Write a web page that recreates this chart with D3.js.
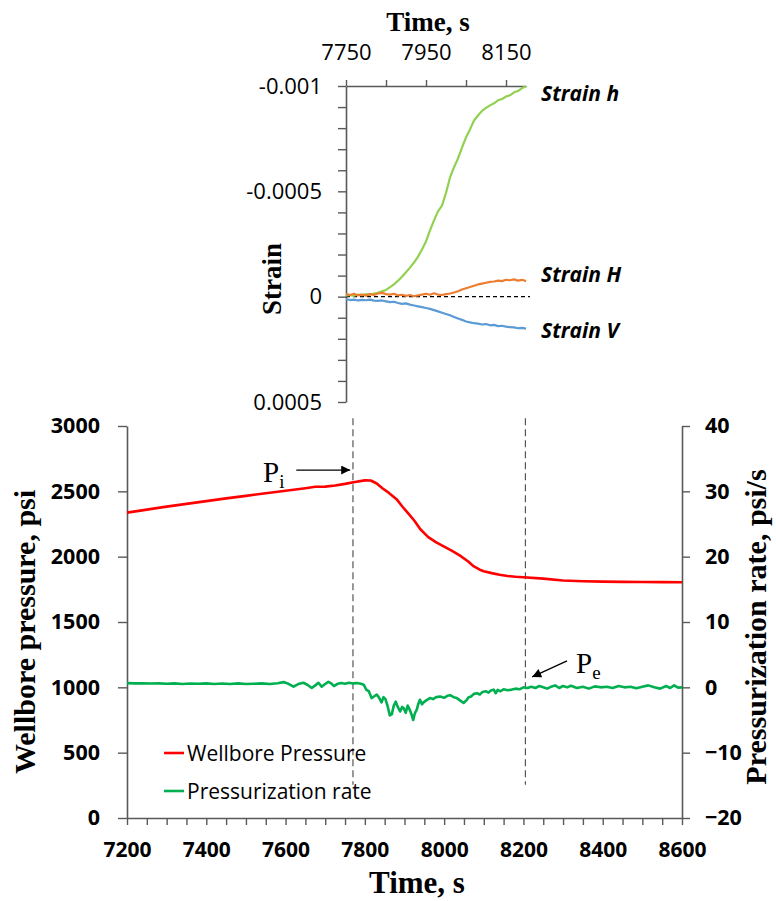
<!DOCTYPE html>
<html>
<head>
<meta charset="utf-8">
<script src="https://cdn.jsdelivr.net/npm/d3@7"></script>
<style>
  html, body { margin: 0; padding: 0; background: #fff; }
  svg { display: block; }
  .tick text { fill: #000; }
</style>
</head>
<body>
<svg id="chart" width="776" height="901"></svg>
<script>
// ---- Wellbore pressure (psi) vs time (s) ----
const pressureTime = [7200, 7250, 7300, 7350, 7400, 7450, 7500, 7550, 7600, 7650, 7675, 7700, 7725, 7750, 7775, 7800, 7815, 7830, 7845, 7860, 7880, 7895, 7910, 7925, 7940, 7960, 7980, 8000, 8020, 8040, 8060, 8075, 8090, 8100, 8120, 8140, 8160, 8180, 8200, 8250, 8300, 8350, 8400, 8450, 8500, 8550, 8600];
const pressureVal  = [2337, 2360, 2383, 2404, 2425, 2446, 2465, 2486, 2505, 2524, 2535, 2536, 2545, 2557, 2571, 2584, 2583, 2560, 2522, 2490, 2440, 2382, 2330, 2275, 2210, 2150, 2110, 2077, 2045, 2008, 1965, 1925, 1900, 1888, 1874, 1862, 1852, 1846, 1842, 1832, 1818, 1812, 1809, 1807, 1806, 1805, 1804];

// ---- Pressurization rate (psi/s) vs time (s) ----
const rateTime = [7200, 7220, 7240, 7260, 7280, 7300, 7320, 7340, 7360, 7380, 7400, 7420, 7440, 7460, 7480, 7500, 7520, 7540, 7560, 7580, 7595, 7605, 7620, 7632, 7645, 7655, 7666, 7675, 7683, 7691, 7700, 7708, 7715, 7722, 7730, 7740, 7750, 7760, 7770, 7780, 7790, 7797, 7804, 7810, 7817, 7823, 7830, 7836, 7842, 7847, 7852, 7858, 7863, 7868, 7873, 7878, 7883, 7889, 7894, 7898, 7903, 7908, 7913, 7918, 7922, 7926, 7931, 7935, 7939, 7944, 7948, 7955, 7964, 7972, 7980, 7990, 8000, 8008, 8015, 8024, 8032, 8040, 8049, 8056, 8062, 8068, 8075, 8083, 8090, 8097, 8105, 8112, 8118, 8125, 8130, 8135, 8142, 8150, 8160, 8171, 8180, 8190, 8200, 8210, 8220, 8230, 8240, 8250, 8260, 8270, 8280, 8290, 8300, 8310, 8320, 8335, 8350, 8365, 8380, 8395, 8410, 8425, 8440, 8455, 8470, 8485, 8500, 8515, 8530, 8545, 8560, 8570, 8580, 8590, 8600];
const rateVal  = [0.65, 0.6, 0.62, 0.58, 0.6, 0.55, 0.6, 0.52, 0.58, 0.55, 0.6, 0.5, 0.58, 0.52, 0.6, 0.5, 0.55, 0.6, 0.5, 0.62, 0.8, 0.6, 0.1, 0.5, 0.7, 0.4, -0.1, 0.3, 0.7, 0.1, 0.5, 0.85, 0.6, 0.2, 0.5, 0.65, 0.55, 0.7, 0.6, 0.65, 0.55, 0.4, -0.4, -0.6, -1.65, -1.4, -1.1, -1.6, -2.3, -1.5, -1.8, -3.0, -4.3, -4.1, -2.8, -2.2, -3.0, -3.7, -3.0, -3.2, -3.9, -2.8, -3.4, -4.2, -5.0, -4.0, -3.4, -2.5, -1.9, -2.6, -2.3, -2.0, -1.65, -1.8, -1.5, -1.4, -1.6, -1.3, -1.2, -1.5, -1.65, -2.0, -2.4, -2.0, -1.5, -1.4, -1.0, -0.9, -1.1, -0.7, -0.6, -0.8, -0.5, -0.35, -0.9, -0.4, -0.6, -0.3, -0.45, -0.35, -0.2, -0.3, 0.0, -0.1, 0.1, -0.1, 0.2, 0.0, -0.2, 0.1, 0.3, -0.1, 0.2, 0.0, 0.25, -0.1, 0.1, -0.2, 0.15, 0.0, 0.1, -0.1, 0.2, 0.0, 0.1, -0.15, 0.1, 0.3, 0.0, -0.2, 0.2, -0.1, 0.3, -0.05, 0.0];

// ---- Strain gauges (microstrain; negative = extension, plotted upward) ----
const strainTime = [7750, 7760, 7770, 7780, 7790, 7800, 7810, 7820, 7830, 7840, 7850, 7860, 7870, 7880, 7890, 7900, 7910, 7920, 7930, 7940, 7950, 7960, 7970, 7980, 7990, 8000, 8010, 8020, 8030, 8040, 8050, 8060, 8070, 8080, 8090, 8100, 8110, 8120, 8130, 8140, 8150, 8160, 8170, 8180, 8190, 8200];
const strainSmallH = [-5, -8, -4, -10, -7, -12, -10, -15, -18, -25, -32, -45, -58, -76, -95, -116, -138, -162, -190, -224, -262, -315, -362, -405, -432, -492, -566, -614, -656, -708, -756, -794, -836, -860, -882, -896, -908, -918, -932, -938, -950, -956, -970, -976, -990, -998];
const strainBigH   = [-12, -8, -14, -6, -10, -5, -12, -8, -15, -18, -12, -10, -14, -6, -9, -4, -8, -2, -6, -10, -14, -9, -16, -10, -8, -12, -15, -20, -26, -34, -40, -46, -52, -58, -62, -66, -70, -72, -76, -74, -80, -78, -82, -76, -80, -74];
const strainV      = [12, 16, 14, 18, 15, 17, 14, 19, 20, 18, 22, 26, 24, 30, 34, 32, 38, 42, 46, 50, 54, 58, 64, 70, 76, 82, 88, 96, 104, 110, 118, 122, 126, 128, 132, 130, 136, 134, 140, 138, 142, 145, 146, 150, 148, 152];

// Tick values
const pressureTicks = [0, 500, 1000, 1500, 2000, 2500, 3000];
const rateTicks = [-20, -10, 0, 10, 20, 30, 40];
const timeTicksBottom = d3.range(7200, 8601, 50);
const timeLabelsBottom = [7200, 7400, 7600, 7800, 8000, 8200, 8400, 8600];
const timeTicksTop = [7750, 7850, 7950, 8050, 8150];
const timeLabelsTop = [7750, 7950, 8150];
const strainTicks = d3.range(-10, 6).map(d => d / 10000);
const strainLabels = [-0.001, -0.0005, 0, 0.0005];

// Event markers: initiation and end of the pressure decline
const eventTimes = [7770, 8205];

const svg = d3.select("#chart");
const AXIS = "#595959";
const SANS = "'Open Sans', sans-serif";
const SERIF = "'Liberation Serif', 'Times New Roman', serif";

// ---------- Scales ----------
const xB = d3.scaleLinear().domain([7200, 8600]).range([127, 682]);
const yP = d3.scaleLinear().domain([0, 3000]).range([818, 426]);
const yR = d3.scaleLinear().domain([-20, 40]).range([818, 426]);
const xT = d3.scaleLinear().domain([7750, 8200]).range([346, 526]);
const yS = d3.scaleLinear().domain([0.0005, -0.001]).range([402, 86]);

function styleAxis(g, fontSize, weight) {
  g.select(".domain").attr("stroke", AXIS).attr("stroke-width", 1.6);
  g.selectAll(".tick line").attr("stroke", AXIS).attr("stroke-width", 1.4);
  g.selectAll(".tick text").attr("font-family", SANS).attr("font-size", fontSize).attr("font-weight", weight);
}

// ---------- Bottom chart ----------
const gB = svg.append("g");

// event markers
gB.selectAll("line.event").data(eventTimes).join("line")
  .attr("class", "event")
  .attr("x1", d => xB(d)).attr("x2", d => xB(d))
  .attr("y1", yP(3060)).attr("y2", yP(255))
  .attr("stroke", "#555").attr("stroke-width", 1.2).attr("stroke-dasharray", "7,4");

// axes
gB.append("g").attr("transform", `translate(0,${yP(0)})`)
  .call(d3.axisBottom(xB).tickValues(timeTicksBottom)
    .tickFormat(d => timeLabelsBottom.includes(d) ? d : "")
    .tickSize(7).tickSizeOuter(0).tickPadding(17))
  .call(g => styleAxis(g, 21, 700));

gB.append("g").attr("transform", `translate(${xB(7200)},0)`)
  .call(d3.axisLeft(yP).tickValues(pressureTicks).tickFormat(d3.format("d"))
    .tickSize(9).tickSizeOuter(0).tickPadding(18))
  .call(g => styleAxis(g, 21.5, 700));

gB.append("g").attr("transform", `translate(${xB(8600)},0)`)
  .call(d3.axisRight(yR).tickValues(rateTicks).tickFormat(d3.format("d"))
    .tickSize(8).tickSizeOuter(0).tickPadding(15))
  .call(g => styleAxis(g, 21.5, 700));

// series
const pressureData = pressureTime.map((t, i) => [t, pressureVal[i]]);
const rateData = rateTime.map((t, i) => [t, rateVal[i]]);

gB.append("path").datum(rateData)
  .attr("fill", "none").attr("stroke", "#00B050").attr("stroke-width", 2.6)
  .attr("stroke-linejoin", "round")
  .attr("d", d3.line().x(d => xB(d[0])).y(d => yR(d[1])));

gB.append("path").datum(pressureData)
  .attr("fill", "none").attr("stroke", "#FF0000").attr("stroke-width", 2.6)
  .attr("stroke-linejoin", "round")
  .attr("d", d3.line().x(d => xB(d[0])).y(d => yP(d[1])));

// axis titles
svg.append("text").attr("x", 417).attr("y", 893).attr("text-anchor", "middle")
  .attr("font-family", SERIF).attr("font-weight", 700).attr("font-size", 31)
  .text("Time, s");
svg.append("text").attr("transform", "translate(35,632) rotate(-90)").attr("text-anchor", "middle")
  .attr("font-family", SERIF).attr("font-weight", 700).attr("font-size", 30)
  .text("Wellbore pressure, psi");
svg.append("text").attr("transform", "translate(766,627) rotate(-90)").attr("text-anchor", "middle")
  .attr("font-family", SERIF).attr("font-weight", 700).attr("font-size", 30)
  .text("Pressurization rate, psi/s");

// legend
const legend = [
  { name: "Wellbore Pressure", color: "#FF0000", y: 753 },
  { name: "Pressurization rate", color: "#00B050", y: 791 }
];
const lg = svg.append("g");
lg.selectAll("line").data(legend).join("line")
  .attr("x1", 164).attr("x2", 184).attr("y1", d => d.y).attr("y2", d => d.y)
  .attr("stroke", d => d.color).attr("stroke-width", 2.6);
lg.selectAll("text").data(legend).join("text")
  .attr("x", 187).attr("y", d => d.y + 7.5)
  .attr("font-family", SANS).attr("font-size", 21)
  .text(d => d.name);

// annotations with arrows
const defs = svg.append("defs");
defs.append("marker").attr("id", "arrowhead")
  .attr("viewBox", "0 0 10 10").attr("refX", 10).attr("refY", 5)
  .attr("markerWidth", 12).attr("markerHeight", 9).attr("markerUnits", "userSpaceOnUse")
  .attr("orient", "auto")
  .append("path").attr("d", "M0,0 L10,5 L0,10 Z").attr("fill", "#000");

svg.append("line")
  .attr("x1", xB(7627)).attr("y1", yP(2663)).attr("x2", xB(7763)).attr("y2", yP(2663))
  .attr("stroke", "#000").attr("stroke-width", 1.3).attr("marker-end", "url(#arrowhead)");
const pi = svg.append("text").attr("x", 263).attr("y", 482)
  .attr("font-family", SERIF).attr("font-size", 29);
pi.append("tspan").text("P");
pi.append("tspan").attr("font-size", 19).attr("dy", 6).text("i");

svg.append("line")
  .attr("x1", xB(8310)).attr("y1", yR(4.06)).attr("x2", xB(8222)).attr("y2", yR(1.6))
  .attr("stroke", "#000").attr("stroke-width", 1.3).attr("marker-end", "url(#arrowhead)");
const pe = svg.append("text").attr("x", 576).attr("y", 673)
  .attr("font-family", SERIF).attr("font-size", 29);
pe.append("tspan").text("P");
pe.append("tspan").attr("font-size", 19).attr("dy", 6).text("e");

// ---------- Top chart (strain) ----------
const gT = svg.append("g");

gT.append("g").attr("transform", `translate(${xT(7750)},0)`)
  .call(d3.axisLeft(yS).tickValues(strainTicks)
    .tickFormat(d => {
      const m = strainLabels.find(v => Math.abs(v - d) < 1e-9);
      return m === undefined ? "" : String(m);
    })
    .tickSize(8).tickSizeOuter(0).tickPadding(16))
  .call(g => styleAxis(g, 22, 400));

gT.append("g").attr("transform", `translate(0,${yS(-0.001)})`)
  .call(d3.axisTop(xT).tickValues(timeTicksTop)
    .tickFormat(d => timeLabelsTop.includes(d) ? d : "")
    .tickSize(6).tickSizeOuter(0).tickPadding(20))
  .call(g => styleAxis(g, 22, 400));

// zero reference
gT.append("line")
  .attr("x1", xT(7750)).attr("x2", xT(8210)).attr("y1", yS(0)).attr("y2", yS(0))
  .attr("stroke", "#000").attr("stroke-width", 1.3).attr("stroke-dasharray", "4,3");

const strainSeries = [
  { name: "Strain h", values: strainSmallH, color: "#92D050", labelY: 101 },
  { name: "Strain H", values: strainBigH, color: "#ED7D31", labelY: 282 },
  { name: "Strain V", values: strainV, color: "#5B9BD5", labelY: 338 }
];
const strainLine = d3.line().x(d => xT(d[0])).y(d => yS(d[1] / 1e6));
gT.selectAll("path.strain").data(strainSeries).join("path")
  .attr("class", "strain")
  .attr("fill", "none").attr("stroke", d => d.color).attr("stroke-width", 2.2)
  .attr("stroke-linejoin", "round")
  .attr("d", d => strainLine(strainTime.map((t, i) => [t, d.values[i]])));

gT.selectAll("text.slabel").data(strainSeries).join("text")
  .attr("class", "slabel")
  .attr("x", 541).attr("y", d => d.labelY)
  .attr("font-family", SANS).attr("font-style", "italic").attr("font-weight", 700).attr("font-size", 21)
  .text(d => d.name);

svg.append("text").attr("x", 428).attr("y", 31).attr("text-anchor", "middle")
  .attr("font-family", SERIF).attr("font-weight", 700).attr("font-size", 27)
  .text("Time, s");
svg.append("text").attr("transform", "translate(281,279) rotate(-90)").attr("text-anchor", "middle")
  .attr("font-family", SERIF).attr("font-weight", 700).attr("font-size", 27)
  .text("Strain");
</script>
</body>
</html>
